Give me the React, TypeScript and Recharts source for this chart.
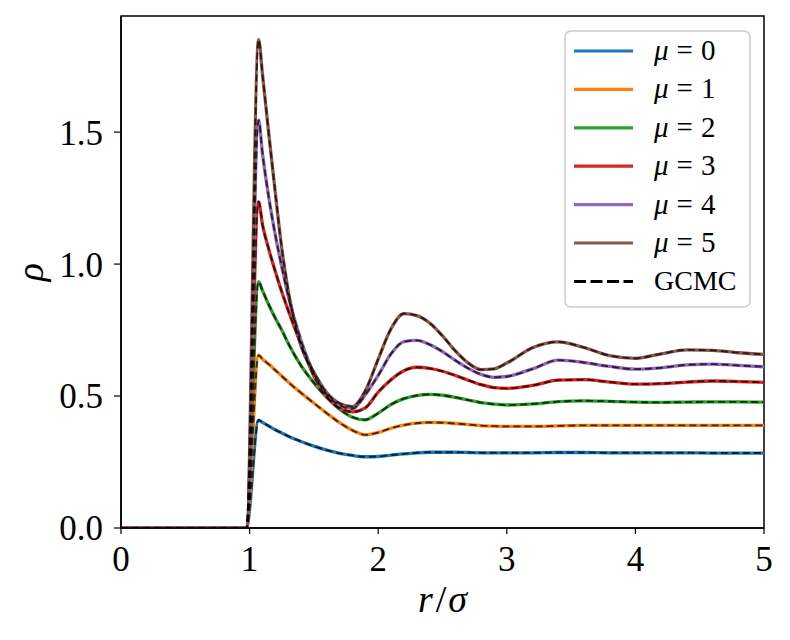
import React from "react";
import { LineChart, Line, XAxis, YAxis, ReferenceArea, Label } from "recharts";

const r = [0, 0.975, 1.07, 1.1, 1.15, 1.2, 1.25, 1.3, 1.4, 1.5, 1.6, 1.7, 1.8, 1.9, 2.0, 2.1, 2.2, 2.3, 2.4, 2.5, 2.6, 2.7, 2.8, 2.9, 3.0, 3.2, 3.4, 3.6, 3.8, 4.0, 4.2, 4.4, 4.6, 4.8, 5.0];

const mu0 = [0, 0, 0.409, 0.4, 0.386, 0.372, 0.36, 0.348, 0.328, 0.31, 0.295, 0.283, 0.275, 0.27, 0.271, 0.276, 0.281, 0.285, 0.287, 0.287, 0.287, 0.286, 0.285, 0.285, 0.285, 0.285, 0.286, 0.286, 0.285, 0.285, 0.285, 0.285, 0.284, 0.284, 0.284];
const mu1 = [0, 0, 0.655, 0.64, 0.62, 0.598, 0.576, 0.553, 0.512, 0.473, 0.435, 0.399, 0.37, 0.353, 0.362, 0.378, 0.39, 0.397, 0.4, 0.399, 0.396, 0.392, 0.388, 0.386, 0.385, 0.385, 0.387, 0.389, 0.389, 0.389, 0.389, 0.389, 0.389, 0.389, 0.389];
const mu2 = [0, 0, 0.933, 0.9, 0.845, 0.795, 0.75, 0.7, 0.615, 0.55, 0.495, 0.45, 0.42, 0.41, 0.435, 0.468, 0.49, 0.502, 0.506, 0.503, 0.495, 0.485, 0.475, 0.469, 0.466, 0.47, 0.479, 0.482, 0.48, 0.477, 0.476, 0.477, 0.478, 0.478, 0.477];
const mu3 = [0, 0, 1.236, 1.15, 1.055, 0.972, 0.895, 0.825, 0.695, 0.575, 0.497, 0.455, 0.44, 0.455, 0.515, 0.562, 0.596, 0.609, 0.605, 0.594, 0.578, 0.56, 0.543, 0.532, 0.529, 0.54, 0.56, 0.562, 0.553, 0.545, 0.547, 0.553, 0.557, 0.555, 0.552];
const mu4 = [0, 0, 1.545, 1.42, 1.25, 1.11, 0.99, 0.88, 0.71, 0.585, 0.505, 0.465, 0.452, 0.505, 0.578, 0.66, 0.706, 0.711, 0.695, 0.668, 0.635, 0.605, 0.582, 0.571, 0.574, 0.603, 0.636, 0.627, 0.612, 0.602, 0.607, 0.618, 0.621, 0.616, 0.611];
const mu5 = [0, 0, 1.85, 1.72, 1.49, 1.27, 1.06, 0.9, 0.69, 0.59, 0.512, 0.472, 0.46, 0.52, 0.64, 0.755, 0.812, 0.805, 0.777, 0.728, 0.671, 0.625, 0.6, 0.603, 0.625, 0.683, 0.705, 0.684, 0.653, 0.643, 0.66, 0.675, 0.673, 0.664, 0.658];

const seriesValues = [mu0, mu1, mu2, mu3, mu4, mu5];
const seriesLabels = ["0", "1", "2", "3", "4", "5"];
const seriesColors = ["#1f77b4", "#ff7f0e", "#2ca02c", "#d62728", "#9467bd", "#8c564b"];
const xTicks = [0, 1, 2, 3, 4, 5];
const yTicks = [0, 0.5, 1.0, 1.5];

const data = r.map((rv, i) => {
  const row: Record<string, number> = { r: rv };
  seriesValues.forEach((s, k) => {
    row["m" + k] = s[i];
  });
  return row;
});

const FONT = "'Liberation Serif', 'DejaVu Serif', serif";

const LegendBox = () => (
  <svg width={188} height={280} style={{ display: "block" }}>
    <rect x={1} y={1} width={185} height={276} rx={6} ry={6} fill="#fff" fillOpacity={0.8} stroke="#cccccc" strokeWidth={1.5} />
    {seriesLabels.map((lab, i) => {
      const y = 21 + i * 38.4;
      return (
        <g key={lab}>
          <line x1={10} x2={69} y1={y} y2={y} stroke={seriesColors[i]} strokeWidth={3.2} />
          <text x={90} y={y + 9} fontFamily={FONT} fontSize={29} fill="#000">
            <tspan fontStyle="italic">μ</tspan>
            <tspan dx={8}>=</tspan>
            <tspan dx={8}>{lab}</tspan>
          </text>
        </g>
      );
    })}
    <line x1={10} x2={69} y1={21 + 6 * 38.4} y2={21 + 6 * 38.4} stroke="#000" strokeWidth={3} strokeDasharray="12 4.5" />
    <text x={90} y={21 + 6 * 38.4 + 9} fontFamily={FONT} fontSize={28} fill="#000">GCMC</text>
  </svg>
);

const XLab = (props: any) => {
  const vb = props.viewBox || {};
  const cx = vb.x + vb.width / 2;
  return (
    <text x={cx} y={612} textAnchor="middle" fontFamily={FONT} fontSize={38} fill="#000">
      <tspan fontStyle="italic">r</tspan>
      <tspan dx={3}>/</tspan>
      <tspan dx={2} fontStyle="italic">σ</tspan>
    </text>
  );
};

const YLab = (props: any) => {
  const vb = props.viewBox || {};
  const cy = vb.y + vb.height / 2;
  const bx = 43;
  return (
    <text x={bx} y={cy} textAnchor="middle" transform={`rotate(-90, ${bx}, ${cy})`} fontFamily={FONT} fontSize={38} fontStyle="italic" fill="#000">
      ρ
    </text>
  );
};

export default function App() {
  return (
    <div style={{ position: "absolute", left: 0, top: 0, width: 790, height: 640, background: "#fff" }}>
      <LineChart width={790} height={640} data={data} margin={{ top: 16, right: 26, left: 61, bottom: 52 }}>
        <ReferenceArea x1={0} x2={5} y1={0} y2={1.94} fill="none" stroke="#000" strokeWidth={1.5} ifOverflow="visible" />
        <XAxis
          type="number"
          dataKey="r"
          domain={[0, 5]}
          ticks={xTicks}
          allowDataOverflow
          height={60}
          tickSize={6}
          tickMargin={12}
          axisLine={{ stroke: "#000", strokeWidth: 1.5 }}
          tickLine={{ stroke: "#000", strokeWidth: 1.2 }}
          tick={{ fontFamily: FONT, fontSize: 35, fill: "#000" }}
        >
          <Label content={XLab} />
        </XAxis>
        <YAxis
          type="number"
          domain={[0, 1.94]}
          ticks={yTicks}
          allowDataOverflow
          width={60}
          tickSize={7}
          tickMargin={11}
          tickFormatter={(v: number) => v.toFixed(1)}
          axisLine={{ stroke: "#000", strokeWidth: 1.5 }}
          tickLine={{ stroke: "#000", strokeWidth: 1.2 }}
          tick={{ fontFamily: FONT, fontSize: 35, fill: "#000" }}
        >
          <Label content={YLab} />
        </YAxis>
        {seriesValues.map((_, k) => (
          <Line
            key={"s" + k}
            type="monotone"
            dataKey={"m" + k}
            stroke={seriesColors[k]}
            strokeWidth={3.3}
            dot={false}
            isAnimationActive={false}
            legendType="none"
          />
        ))}
        {seriesValues.map((_, k) => (
          <Line
            key={"g" + k}
            type="monotone"
            dataKey={"m" + k}
            stroke="#000"
            strokeOpacity={0.7}
            strokeWidth={1.9}
            strokeDasharray="7 4"
            dot={false}
            isAnimationActive={false}
            legendType="none"
          />
        ))}
      </LineChart>
      <div style={{ position: "absolute", left: 564, top: 30 }}>
        <LegendBox />
      </div>
    </div>
  );
}
